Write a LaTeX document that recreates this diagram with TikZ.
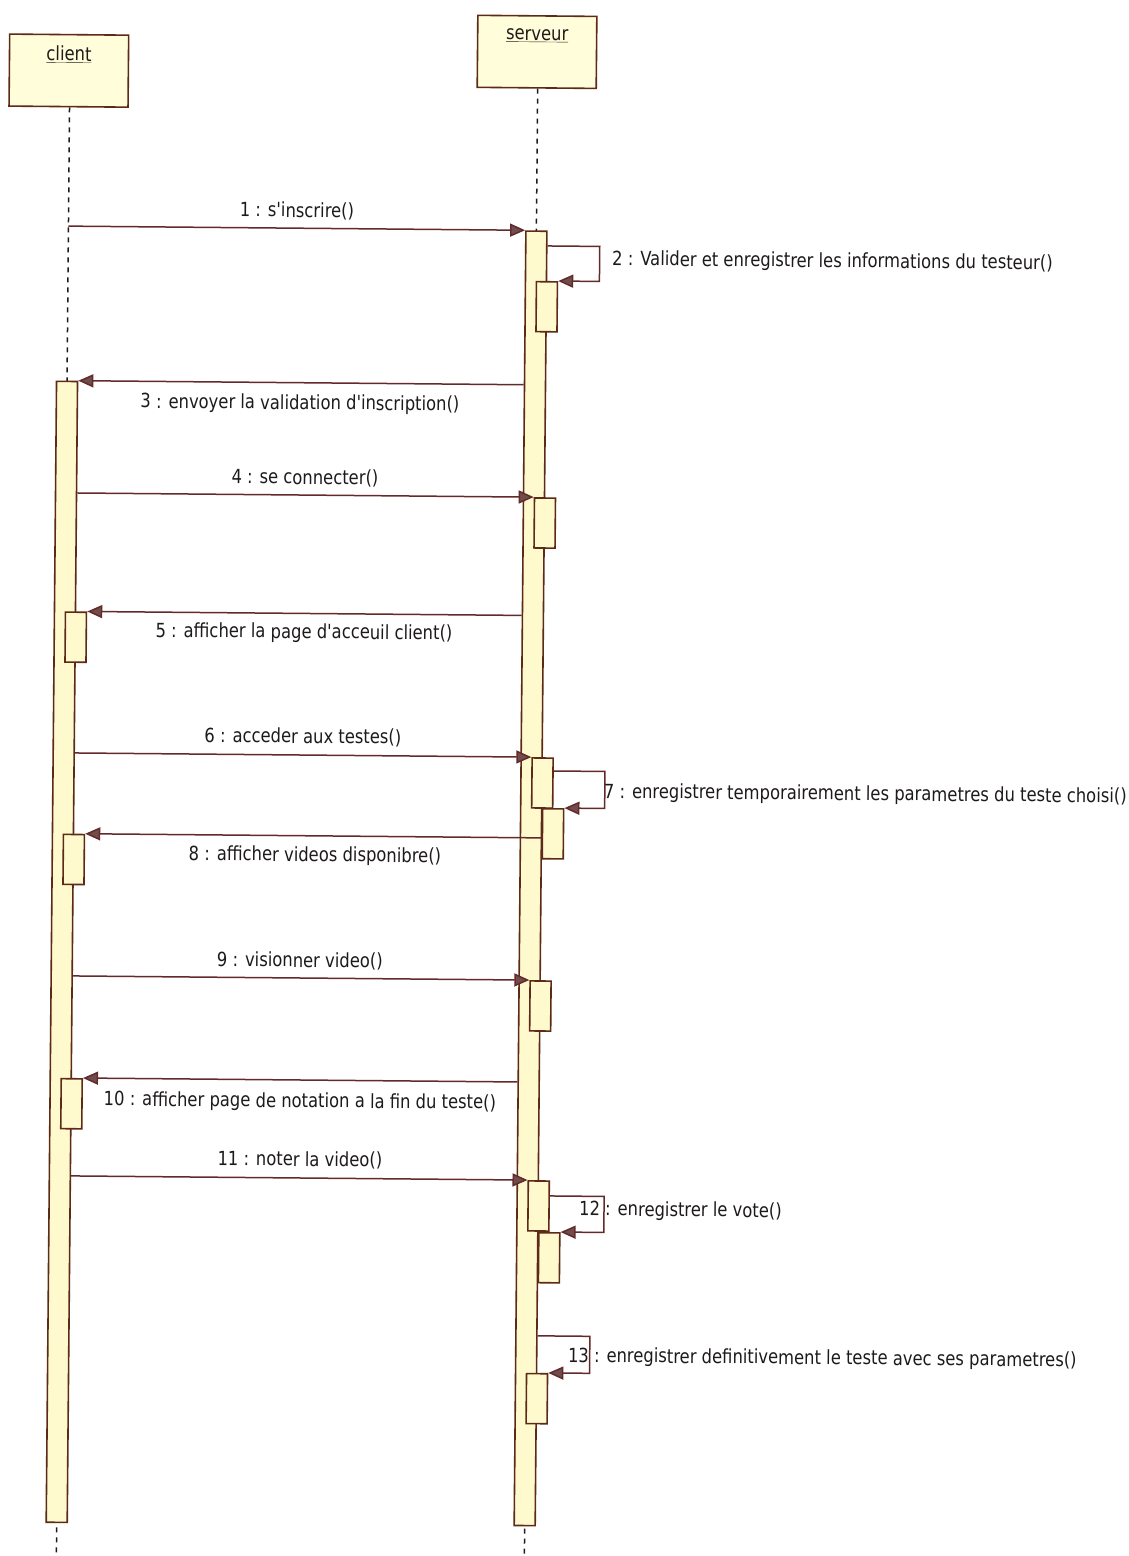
\documentclass[tikz,border=0pt]{standalone}
\usepackage{fontspec}
\setmainfont{DejaVu Sans}[FakeStretch=0.84, Ligatures=TeXOff]
\usetikzlibrary{arrows.meta}

\definecolor{objfill}{RGB}{255,253,218}
\definecolor{barfill}{RGB}{255,250,205}
\definecolor{edge}{RGB}{92,42,22}
\definecolor{msgline}{RGB}{100,42,42}
\definecolor{tipfill}{RGB}{112,76,76}
\definecolor{txt}{RGB}{30,26,26}

\begin{document}
\begin{tikzpicture}[x=1pt,y=1pt,
  objbox/.style={draw=edge, fill=objfill, line width=1.6pt, minimum width=119pt, minimum height=72pt, inner sep=0pt},
  objname/.style={text=txt, font=\fontsize{19.5}{22}\selectfont, inner sep=0pt},
  life/.style={draw=txt, line width=1.5pt, dash pattern=on 5pt off 5pt},
  actbar/.style={draw=edge, fill=barfill, line width=1.6pt, minimum width=21pt, inner sep=0pt, anchor=north},
  msg/.style={draw=msgline, line width=1.5pt, -{Triangle[length=15pt,width=13pt,fill=tipfill]}},
  msglabel/.style={text=txt, font=\fontsize{19.5}{22}\selectfont, inner sep=0pt},
  every node/.append style={transform shape}]
\clip (0,0) rectangle (1128,-1556);
\fill[white] (0,0) rectangle (1128,-1556);
\begin{scope}[rotate=-0.52]
  % objects
  \node[objbox] (client) at (69.5,-70) {};
  \node[objname] (clientname) at (69.5,-54) {\underline{client}};
  \node[objbox] (serveur) at (537.5,-47) {};
  \node[objname] (serveurname) at (537.5,-31) {\underline{serveur}};

  % lifelines
  \coordinate (cend) at (70.5,-1620);
  \coordinate (send) at (538.5,-1620);
  \draw[life] (client.south -| cend) -- (cend);
  \draw[life] (serveur.south -| send) -- (send);

  % main activations
  \node[actbar, minimum height=1141pt] (cbar) at (70.5,-380) {};
  \node[actbar, minimum height=1294.5pt] (sbar) at (538.5,-225.5) {};

  % nested activations on the server
  \node[actbar, minimum height=50pt] (sn2) at (549.5,-276) {};
  \node[actbar, minimum height=50pt] (sn4) at (549.5,-492.3) {};
  \node[actbar, minimum height=50pt] (sn6) at (549.5,-752.3) {};
  \node[actbar, minimum height=50pt] (sn7) at (560.5,-803) {};
  \node[actbar, minimum height=50pt] (sn9) at (549.5,-975.3) {};
  \node[actbar, minimum height=50pt] (sn11) at (549.5,-1175.3) {};
  \node[actbar, minimum height=50pt] (sn12) at (560.5,-1227) {};
  \node[actbar, minimum height=50pt] (sn13) at (549.5,-1368) {};

  % nested activations on the client
  \node[actbar, minimum height=50pt] (cn5) at (81.5,-610.7) {};
  \node[actbar, minimum height=50pt] (cn8) at (81.5,-833) {};
  \node[actbar, minimum height=50pt] (cn10) at (81.5,-1077.3) {};

  % messages
  \draw[msg] (cend |- sbar.north west) -- (sbar.north west);
  \node[msglabel] (m1) at (298.9,-208.3) {1 : s'inscrire()};

  \coordinate (l2) at (602,-241);
  \draw[msg] (sbar.east |- l2) -- (l2) |- (sn2.north east);
  \node[msglabel, anchor=west] (m2) at (614.4,-254.5) {2 : Valider et enregistrer les informations du testeur()};

  \draw[msg] (sbar.west |- cbar.north) -- (cbar.north east);
  \node[msglabel] (m3) at (303.6,-401.3) {3 : envoyer la validation d'inscription()};

  \draw[msg] (cbar.east |- sn4.north) -- (sn4.north west);
  \node[msglabel] (m4) at (309.3,-475.3) {4 : se connecter()};

  \draw[msg] (sbar.west |- cn5.north) -- (cn5.north east);
  \node[msglabel] (m5) at (309.7,-630.3) {5 : afficher la page d'acceuil client()};

  \draw[msg] (cbar.east |- sn6.north) -- (sn6.north west);
  \node[msglabel] (m6) at (309.6,-734.3) {6 : acceder aux testes()};

  \coordinate (l7) at (612,-766);
  \draw[msg] (sn6.east |- l7) -- (l7) |- (sn7.north east);
  \node[msglabel, anchor=west] (m7) at (611,-787.2) {7 : enregistrer temporairement les parametres du teste choisi()};

  \draw[msg] (sn7.west |- cn8.north) -- (cn8.north east);
  \node[msglabel] (m8) at (322.7,-853.2) {8 : afficher videos disponibre()};

  \draw[msg] (cbar.east |- sn9.north) -- (sn9.north west);
  \node[msglabel] (m9) at (308.6,-958.3) {9 : visionner video()};

  \draw[msg] (sbar.west |- cn10.north) -- (cn10.north east);
  \node[msglabel] (m10) at (309.9,-1099.3) {10 : afficher page de notation a la fin du teste()};

  \draw[msg] (cbar.east |- sn11.north) -- (sn11.north west);
  \node[msglabel] (m11) at (310.4,-1157.3) {11 : noter la video()};

  \coordinate (l12) at (615,-1191);
  \draw[msg] (sn11.east |- l12) -- (l12) |- (sn12.north east);
  \node[msglabel, anchor=west] (m12) at (590,-1204.9) {12 : enregistrer le vote()};

  \coordinate (l13) at (602,-1331);
  \draw[msg] (sbar.east |- l13) -- (l13) |- (sn13.north east);
  \node[msglabel, anchor=west] (m13) at (580.2,-1351.6) {13 : enregistrer definitivement le teste avec ses parametres()};
\end{scope}
\end{tikzpicture}
\end{document}
